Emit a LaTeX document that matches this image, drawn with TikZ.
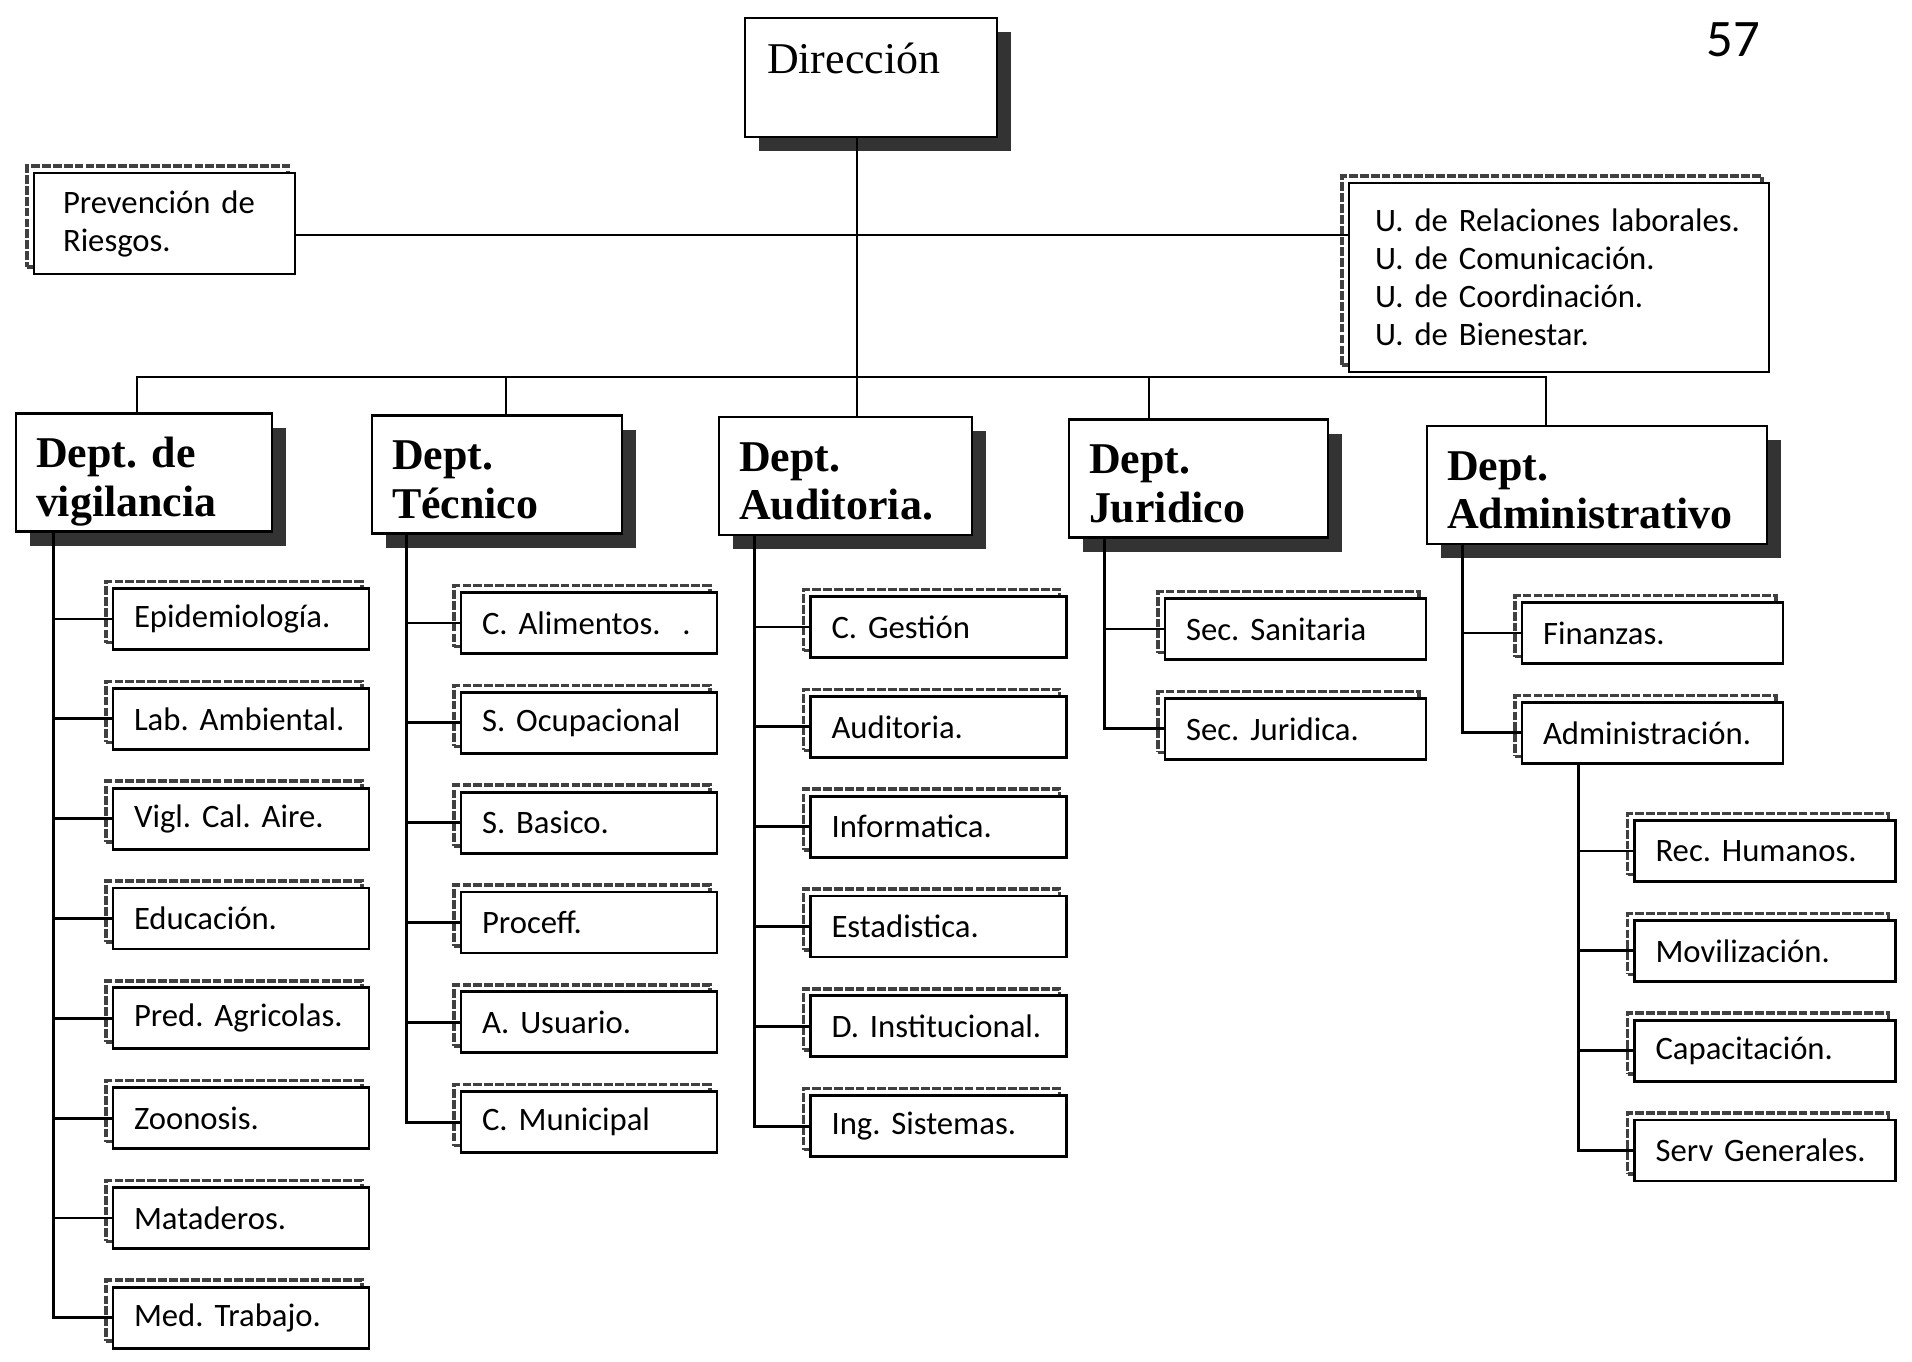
\documentclass[tikz,border=0pt]{standalone}
\usepackage{fontspec}
\setmainfont{Liberation Serif}
\newfontfamily\unitfont{Carlito}
\usetikzlibrary{positioning, shadows}
\AtBeginDocument{\frenchspacing}

\begin{document}
\begin{tikzpicture}[
        line width=0.8pt,
        node distance=0.36cm,
        topbox/.style={rectangle, draw, fill=white, inner sep=0pt, align=left,
            general shadow={shadow xshift=0.14cm, shadow yshift=-0.14cm, fill=black!80}},
        deptbox/.style={topbox, inner xsep=0.2cm, text height=0.54cm, text depth=0.64cm,
            font=\fontsize{12.5}{13.9}\selectfont\bfseries},
        staffbox/.style={rectangle, draw, fill=white, inner xsep=0.23cm, inner ysep=0pt, align=left,
            font=\unitfont\fontsize{9.3}{10.8}\selectfont,
            general shadow={shadow xshift=-0.07cm, shadow yshift=0.07cm, fill=none, draw=black!75,
                line width=1pt, dash pattern=on 2.5pt off 0.6pt}},
        unitbox/.style={staffbox, inner xsep=0.21cm, minimum height=0.61cm, text width=2.14cm},
        wideunit/.style={unitbox, text width=2.19cm},
    ]
    \useasboundingbox (0,0) rectangle (19.12,-13.61);

    % top level
    \node[topbox, inner xsep=0.22cm, text width=2.08cm, text height=0.55cm, text depth=0.64cm,
        font=\fontsize{12.5}{14}\selectfont] (dir) at (8.71,-0.775) {Dirección};
    \node[staffbox, inner xsep=0.29cm, text width=2.03cm, minimum height=1.01cm] (prev) at (1.645,-2.235)
        {Prevención de\\Riesgos.};
    \node[staffbox, inner xsep=0.26cm, text width=3.68cm, minimum height=1.89cm] (ubox) at (15.59,-2.775)
        {U. de Relaciones laborales.\\U. de Comunicación.\\U. de Coordinación.\\U. de Bienestar.};
    \node[font=\unitfont\fontsize{15}{15}\selectfont] (folio) at (17.33,-0.40) {57};

    % departments
    \node[deptbox, minimum width=2.56cm, text width=2.16cm] (vig) at (1.44,-4.725) {Dept. de\\vigilancia};
    \node[deptbox, minimum width=2.50cm, text width=2.10cm] (tec) at (4.97,-4.745) {Dept.\\Técnico};
    \node[deptbox, minimum width=2.53cm, text width=2.13cm] (aud) at (8.455,-4.76) {Dept.\\Auditoria.};
    \node[deptbox, minimum width=2.59cm, text width=2.19cm] (jur) at (11.985,-4.785) {Dept.\\Juridico};
    \node[deptbox, minimum width=3.40cm, text width=3.00cm] (adm) at (15.97,-4.85) {Dept.\\Administrativo};

    % units, Dept. de vigilancia
    \node[unitbox] (epi) at (2.41,-6.19) {Epidemiología.};
    \node[unitbox, below=of epi] (lab) {Lab. Ambiental.};
    \node[unitbox, below=of lab] (aire) {Vigl. Cal. Aire.};
    \node[unitbox, below=of aire] (edu) {Educación.};
    \node[unitbox, below=of edu] (pred) {Pred. Agricolas.};
    \node[unitbox, below=of pred] (zoo) {Zoonosis.};
    \node[unitbox, below=of zoo] (mata) {Mataderos.};
    \node[unitbox, below=of mata] (med) {Med. Trabajo.};

    % units, Dept. Tecnico
    \node[unitbox] (ali) at (5.89,-6.23) {C. Alimentos.~~.};
    \node[unitbox, below=of ali] (ocu) {S. Ocupacional};
    \node[unitbox, below=of ocu] (bas) {S. Basico.};
    \node[unitbox, below=of bas] (proc) {Proceff.};
    \node[unitbox, below=of proc] (usu) {A. Usuario.};
    \node[unitbox, below=of usu] (muni) {C. Municipal};

    % units, Dept. Auditoria
    \node[unitbox] (ges) at (9.385,-6.27) {C. Gestión};
    \node[unitbox, below=of ges] (audi) {Auditoria.};
    \node[unitbox, below=of audi] (info) {Informatica.};
    \node[unitbox, below=of info] (esta) {Estadistica.};
    \node[unitbox, below=of esta] (inst) {D. Institucional.};
    \node[unitbox, below=of inst] (ing) {Ing. Sistemas.};

    % units, Dept. Juridico
    \node[wideunit] (sani) at (12.955,-6.29) {Sec. Sanitaria};
    \node[wideunit, below=of sani] (juri) {Sec. Juridica.};

    % units, Dept. Administrativo
    \node[wideunit] (fin) at (16.525,-6.33) {Finanzas.};
    \node[wideunit, below=of fin] (admi) {Administración.};
    \node[wideunit] (rrhh) at (17.65,-8.51) {Rec. Humanos.};
    \node[wideunit, below=of rrhh] (movi) {Movilización.};
    \node[wideunit, below=of movi] (capa) {Capacitación.};
    \node[wideunit, below=of capa] (serv) {Serv Generales.};

    % connectors, top level
    \coordinate (hub) at (8.57,-2.35);
    \coordinate (bus) at (8.57,-3.77);
    \draw (dir.south -| hub) -- (aud.north -| hub);
    \draw (prev.east |- hub) -- (ubox.west |- hub);
    \coordinate (vigin) at ([xshift=-0.07cm]vig.north);
    \coordinate (tecin) at ([xshift=0.09cm]tec.north);
    \coordinate (jurin) at ([xshift=-0.495cm]jur.north);
    \coordinate (admin) at ([xshift=-0.51cm]adm.north);
    \draw (vigin) |- (bus) -| (admin);
    \draw (tecin) -- (tecin |- bus);
    \draw (jurin) -- (jurin |- bus);

    % connectors, departments to units
    \coordinate (vigT) at ([xshift=0.39cm]vig.south west);
    \draw (vigT) |- (med.west);
    \draw (vigT |- epi.west) -- (epi.west) (vigT |- lab.west) -- (lab.west)
        (vigT |- aire.west) -- (aire.west) (vigT |- edu.west) -- (edu.west)
        (vigT |- pred.west) -- (pred.west) (vigT |- zoo.west) -- (zoo.west)
        (vigT |- mata.west) -- (mata.west);

    \coordinate (tecT) at ([xshift=0.36cm]tec.south west);
    \draw (tecT) |- (muni.west);
    \draw (tecT |- ali.west) -- (ali.west) (tecT |- ocu.west) -- (ocu.west)
        (tecT |- bas.west) -- (bas.west) (tecT |- proc.west) -- (proc.west)
        (tecT |- usu.west) -- (usu.west);

    \coordinate (audT) at ([xshift=0.37cm]aud.south west);
    \draw (audT) |- (ing.west);
    \draw (audT |- ges.west) -- (ges.west) (audT |- audi.west) -- (audi.west)
        (audT |- info.west) -- (info.west) (audT |- esta.west) -- (esta.west)
        (audT |- inst.west) -- (inst.west);

    \coordinate (jurT) at ([xshift=0.37cm]jur.south west);
    \draw (jurT) |- (juri.west);
    \draw (jurT |- sani.west) -- (sani.west);

    \coordinate (admT) at ([xshift=0.37cm]adm.south west);
    \draw (admT) |- (admi.west);
    \draw (admT |- fin.west) -- (fin.west);

    \coordinate (admiT) at ([xshift=0.58cm]admi.south west);
    \draw (admiT) |- (serv.west);
    \draw (admiT |- rrhh.west) -- (rrhh.west) (admiT |- movi.west) -- (movi.west)
        (admiT |- capa.west) -- (capa.west);
\end{tikzpicture}
\end{document}
